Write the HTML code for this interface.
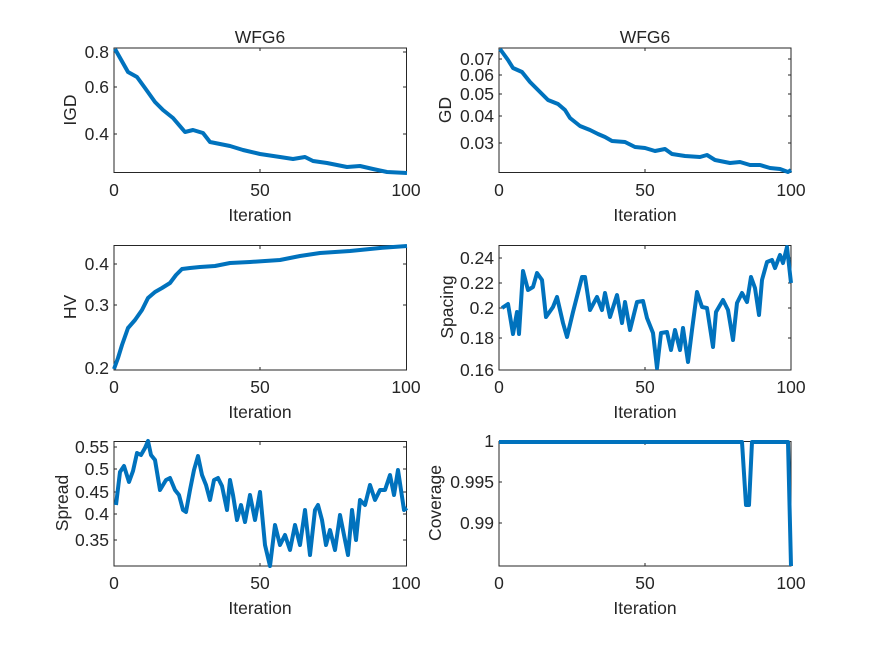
<!DOCTYPE html>
<html><head><style>body{margin:0;background:#fff}svg{display:block}text{font-family:"Liberation Sans",sans-serif;fill:#262626;font-size:17.5px}</style></head><body>
<svg width="875" height="656" viewBox="0 0 875 656">
<g fill="none" stroke="#262626" stroke-width="1">
<rect x="114" y="48" width="292.5" height="124.5"/>
<rect x="499" y="48" width="292" height="124.5"/>
<rect x="114" y="245.5" width="292.5" height="124.5"/>
<rect x="499" y="245.5" width="292" height="124.5"/>
<rect x="114" y="441.5" width="292.5" height="124.5"/>
<rect x="499" y="441.5" width="292" height="124.5"/>
<path d="M260,172v-3M260,48v3M645,172v-3M645,48v3M260,370v-3M260,246v3M645,370v-3M645,246v3M260,566v-3M260,442v3M645,566v-3M645,442v3"/>
<path d="M114,52h3M114,87h3M114,134h3M406,52h-3M406,87h-3M406,134h-3M499,59h3M499,75h3M499,94h3M499,116h3M499,143h3M791,59h-3M791,75h-3M791,94h-3M791,116h-3M791,143h-3M114,264h3M114,305h3M406,264h-3M406,305h-3M499,258h3M499,283h3M499,308h3M499,338h3M791,258h-3M791,283h-3M791,308h-3M791,338h-3M114,447h3M114,469h3M114,492h3M114,514h3M114,540h3M406,447h-3M406,469h-3M406,492h-3M406,514h-3M406,540h-3M499,482h3M499,523h3M791,482h-3M791,523h-3"/>
</g>
<g fill="none" stroke="#0072BD" stroke-width="4" stroke-linejoin="round">
<polyline points="115,49 128,72 137,77 145,88 155,102 163,110 173,118 185,132 193,130 203,133 210,142 230,146 243,150 260,154 280,157 293,159 305,157 313,161 327,163 347,167 360,166 373,169 387,172 407,173"/>
<polyline points="500,49 508,60 513,68 522,72 530,82 540,92 548,100 558,104 565,110 570,118 580,126 590,130 598,134 605,137 612,141 625,142 635,147 645,148 655,151 665,149 672,154 685,156 700,157 707,155 715,160 730,163 740,162 750,165 760,165 770,168 780,169 788,172 791,170"/>
<polyline points="114,369 118,358 122,345 128,328 135,320 142,310 148,298 155,292 162,288 170,283 176,275 182,269 190,268 200,267 215,266 230,263 250,262 265,261 280,260 300,256 320,253 350,251 380,248 407,246"/>
<polyline points="502,308 508,304 513,334 517,312 519,334 523,271 528,290 533,287 537,273 542,280 546,317 553,307 557,297 563,323 567,337 573,312 582,277 585,277 590,310 597,297 602,310 605,293 610,317 617,295 622,323 625,302 630,330 637,302 643,301 647,318 653,333 657,368 661,333 667,332 671,350 675,330 680,350 683,328 688,362 692,330 697,292 702,307 707,308 713,347 716,312 723,300 728,310 733,340 737,303 742,293 747,302 751,277 755,288 759,315 762,280 767,262 772,260 775,268 780,255 783,263 787,247 791,283"/>
<polyline points="116,505 120,472 124,466 129,482 133,471 137,453 141,455 145,448 148,441 151,455 155,460 160,490 166,480 170,478 175,490 179,495 183,510 186,512 190,490 194,470 198,456 202,475 206,485 210,500 214,480 218,478 222,486 227,510 230,480 233,495 237,520 241,505 245,522 250,495 255,520 260,492 265,545 270,566 275,525 280,545 285,535 290,550 295,525 300,545 305,510 310,555 315,510 318,505 322,520 326,545 330,530 335,550 340,515 345,540 348,555 352,510 356,540 360,500 365,505 370,485 375,500 380,490 385,490 390,475 394,495 398,470 401,490 404,510 407,508"/>
<polyline points="499,442 742,442 746,505 749,505 752,442 788,442 791,566"/>
</g>
<g text-anchor="middle">
<text x="260" y="43">WFG6</text>
<text x="645" y="43">WFG6</text>
<text x="114" y="196">0</text><text x="260" y="196">50</text><text x="406" y="196">100</text>
<text x="499" y="196">0</text><text x="645" y="196">50</text><text x="791" y="196">100</text>
<text x="114" y="393">0</text><text x="260" y="393">50</text><text x="406" y="393">100</text>
<text x="499" y="393">0</text><text x="645" y="393">50</text><text x="791" y="393">100</text>
<text x="114" y="589">0</text><text x="260" y="589">50</text><text x="406" y="589">100</text>
<text x="499" y="589">0</text><text x="645" y="589">50</text><text x="791" y="589">100</text>
<text x="260" y="221">Iteration</text><text x="645" y="221">Iteration</text>
<text x="260" y="418">Iteration</text><text x="645" y="418">Iteration</text>
<text x="260" y="614">Iteration</text><text x="645" y="614">Iteration</text>
<text transform="translate(76,110) rotate(-90)">IGD</text>
<text transform="translate(451,110) rotate(-90)">GD</text>
<text transform="translate(76,307) rotate(-90)">HV</text>
<text transform="translate(453,307) rotate(-90)">Spacing</text>
<text transform="translate(68,503) rotate(-90)">Spread</text>
<text transform="translate(441,503) rotate(-90)">Coverage</text>
</g>
<g text-anchor="end">
<text x="109" y="58">0.8</text><text x="109" y="93">0.6</text><text x="109" y="140">0.4</text>
<text x="494" y="65">0.07</text><text x="494" y="81">0.06</text><text x="494" y="100">0.05</text><text x="494" y="122">0.04</text><text x="494" y="149">0.03</text>
<text x="109" y="270">0.4</text><text x="109" y="311">0.3</text><text x="109" y="374">0.2</text>
<text x="494" y="264">0.24</text><text x="494" y="289">0.22</text><text x="494" y="314">0.2</text><text x="494" y="344">0.18</text><text x="494" y="376">0.16</text>
<text x="109" y="453">0.55</text><text x="109" y="475">0.5</text><text x="109" y="498">0.45</text><text x="109" y="520">0.4</text><text x="109" y="546">0.35</text>
<text x="494" y="447">1</text><text x="494" y="488">0.995</text><text x="494" y="529">0.99</text>
</g>
</svg>
</body></html>
